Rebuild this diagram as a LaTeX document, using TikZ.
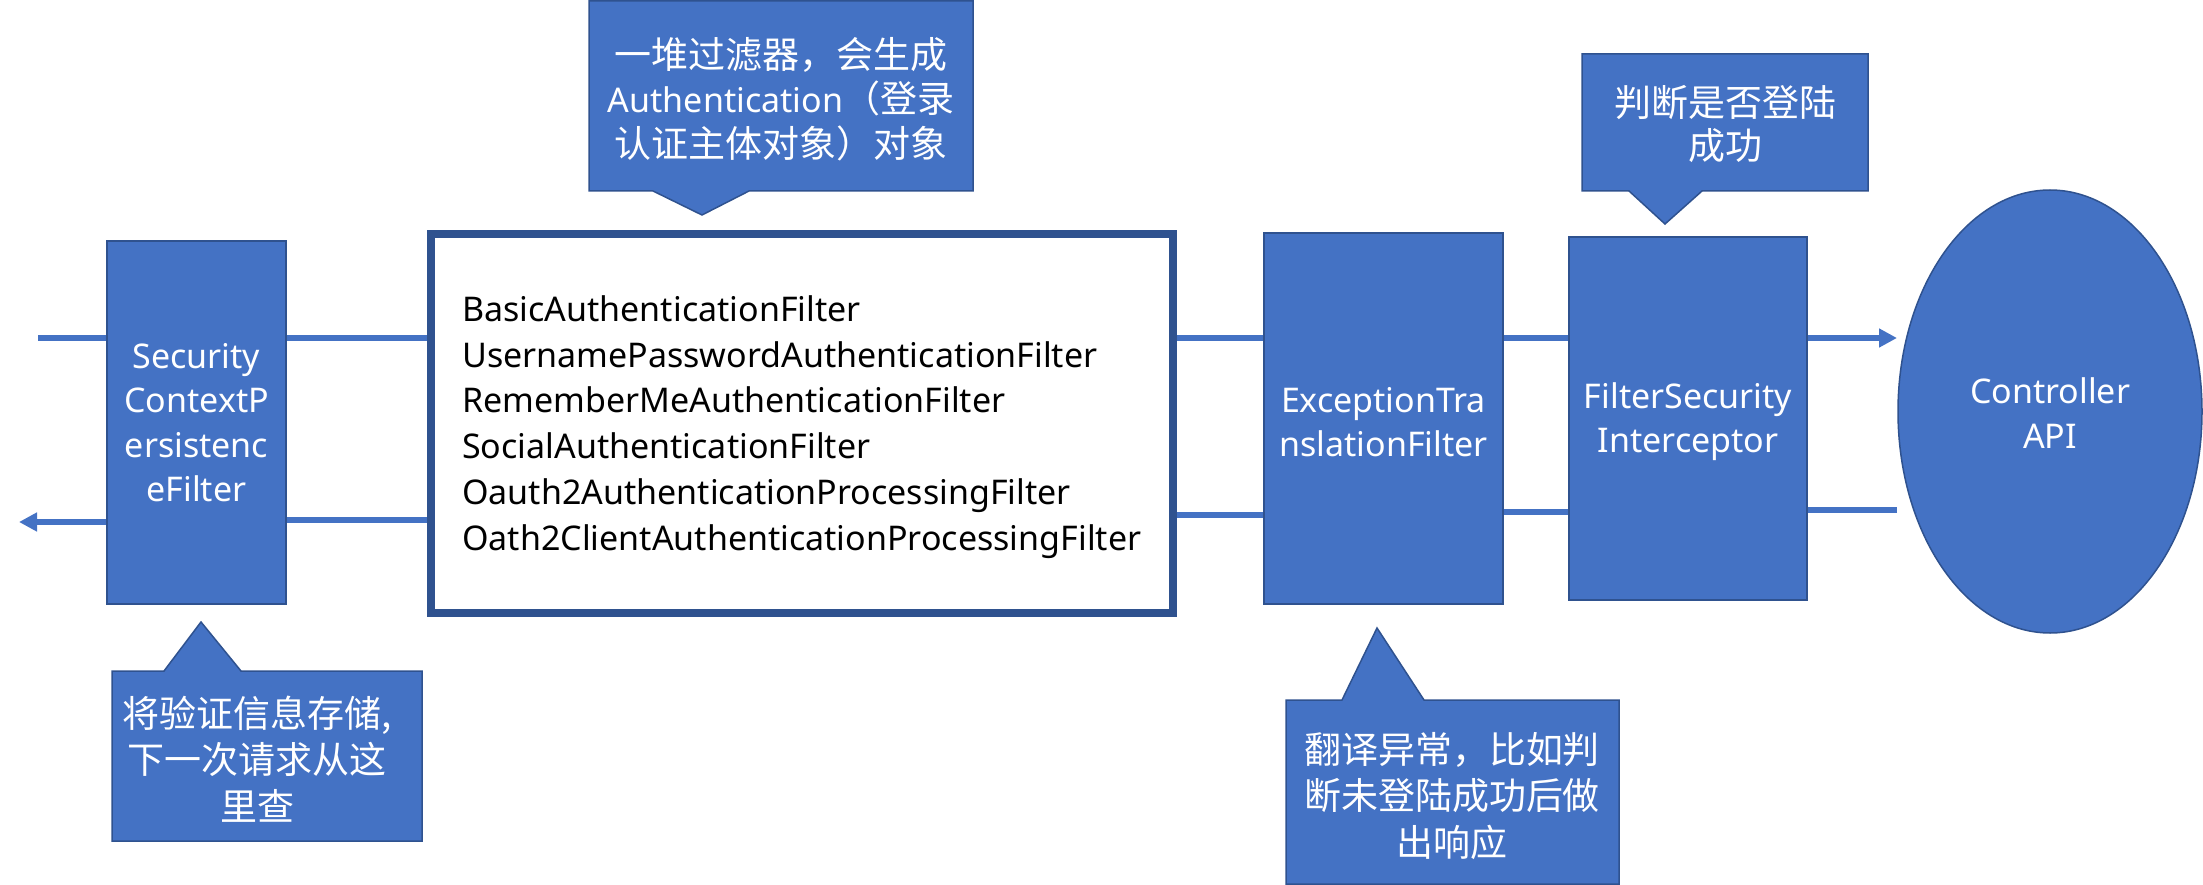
\documentclass[tikz,border=0pt]{standalone}
\usepackage{fontspec}
\setmainfont{Noto Sans}
\newfontfamily\cjk[Scale=1.088]{Noto Sans CJK SC}
\usetikzlibrary{arrows.meta,shapes.geometric}
\definecolor{blu}{HTML}{4472C4}
\definecolor{dblu}{HTML}{2F528F}
\begin{document}
\begin{tikzpicture}[x=1pt,y=-1pt,
  every node/.style={font=\fontsize{34}{44.5}\selectfont},
  fbox/.style={rectangle, draw=dblu, line width=1.5pt, fill=blu, text=white, align=center, inner sep=0pt},
  callout/.style={draw=dblu, line width=1.5pt, fill=blu},
  ctext/.style={text=white, align=center, inner sep=0pt, font=\fontsize{34}{46.5}\selectfont\cjk},
  flow/.style={draw=blu, line width=6pt},
  tip/.style={-{Triangle[length=18pt,width=18pt]}}
]
\useasboundingbox (0,0) rectangle (2203,885);

% main nodes
\node[fbox, minimum width=179pt, minimum height=363pt] (scpf) at (196.5,422.5) {Security\\ContextP\\ersistenc\\eFilter};
\node[rectangle, draw=dblu, line width=8pt, fill=white, minimum width=742pt, minimum height=379pt, inner sep=0pt] (big) at (802,423.5) {};
\node[anchor=west, align=left, inner sep=0pt, font=\fontsize{34}{45.8}\selectfont] (list) at (462,427) {BasicAuthenticationFilter\\UsernamePasswordAuthenticationFilter\\RememberMeAuthenticationFilter\\SocialAuthenticationFilter\\Oauth2AuthenticationProcessingFilter\\Oath2ClientAuthenticationProcessingFilter};
\node[fbox, minimum width=239pt, minimum height=371pt] (etf) at (1383.5,418.5) {};
\node[text=white, align=center, inner sep=0pt, font=\fontsize{34}{44}\selectfont] (etft) at (1383.5,422) {ExceptionTra\\nslationFilter};
\node[fbox, minimum width=238pt, minimum height=363pt] (fsi) at (1688,418.5) {};
\node[text=white, align=center, inner sep=0pt, font=\fontsize{34}{44}\selectfont] (fsit) at (1688,422) {FilterSecurity\\Interceptor};
\node[ellipse, draw=dblu, line width=1.5pt, fill=blu, minimum width=304pt, minimum height=443pt, inner sep=0pt] (api) at (2050,411.5) {};
\node[text=white, align=center, inner sep=0pt, font=\fontsize{34}{44.5}\selectfont] (apit) at (2050,413) {Controller\\API};

% connectors (top, left to right)
\coordinate (inL) at (38,338);
\coordinate (outR) at (1897,338);
\draw[flow] (inL) -- (scpf.west |- inL);
\draw[flow] (scpf.east |- inL) -- (big.west |- inL);
\draw[flow] (big.east |- inL) -- (etf.west |- inL);
\draw[flow] (etf.east |- inL) -- (fsi.west |- inL);
\draw[flow,tip] (fsi.east |- inL) -- (outR);

% connectors (bottom, right to left)
\coordinate (b5) at (1897,510);
\coordinate (b4) at (0,512);
\coordinate (b3) at (0,514.5);
\coordinate (b2) at (0,520);
\coordinate (b1) at (19,522);
\draw[flow] (b5) -- (fsi.east |- b5);
\draw[flow] (fsi.west |- b4) -- (etf.east |- b4);
\draw[flow] (etf.west |- b3) -- (big.east |- b3);
\draw[flow] (big.west |- b2) -- (scpf.east |- b2);
\draw[flow,tip] (scpf.west |- b1) -- (b1);

% callout: filters
\draw[callout] (589,1) -- (973,1) -- (973,191) -- (749,191) -- (702,215) -- (653,191) -- (589,191) -- cycle;
\node[ctext, font=\fontsize{34}{44.5}\selectfont\cjk] (c1) at (781,99) {一堆过滤器，会生成\\{\rmfamily Authentication}（登录\\认证主体对象）对象};

% callout: login check
\draw[callout] (1582,54) -- (1868,54) -- (1868,191) -- (1702,191) -- (1665,224) -- (1629,191) -- (1582,191) -- cycle;
\node[ctext, font=\fontsize{34}{43.5}\selectfont\cjk] (c2) at (1725,124) {判断是否登陆\\成功};

% callout: exception translation
\draw[callout] (1286,700) -- (1342,700) -- (1377,628) -- (1424,700) -- (1619,700) -- (1619,884) -- (1286,884) -- cycle;
\node[ctext] (c3) at (1452,796) {翻译异常，比如判\\断未登陆成功后做\\出响应};

% callout: context persistence
\draw[callout] (112,671) -- (164,671) -- (201,622) -- (241,671) -- (422,671) -- (422,841) -- (112,841) -- cycle;
\node[ctext] (c4) at (257,759) {将验证信息存储,\\下一次请求从这\\里查};
\end{tikzpicture}
\end{document}
